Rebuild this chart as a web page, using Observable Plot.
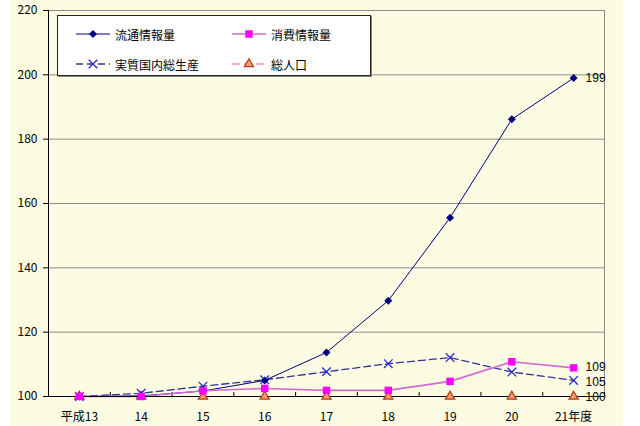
<!DOCTYPE html>
<html><head><meta charset="utf-8">
<script src="https://cdn.jsdelivr.net/npm/d3@7"></script>
<script src="https://cdn.jsdelivr.net/npm/@observablehq/plot@0.6"></script>
<style>
html,body{margin:0;padding:0;background:#fff;}
#wrap{position:relative;width:640px;height:426px;font-family:"Noto Sans CJK JP",sans-serif;}
#legend{position:absolute;left:57px;top:15px;width:312px;height:59px;background:#fff;border:1px solid #222;box-shadow:1px 1px 0 #888;font-size:12px;color:#000;}
.item{position:absolute;display:flex;align-items:center;height:16px;}
.item svg{margin-right:4px;}
</style></head>
<body><div id="wrap"></div>
<script>
const years = ["平成13","14","15","16","17","18","19","20","21年度"];
const ryutsu = [100, 100.2, 101.7, 105, 113.7, 129.8, 155.6, 186.2, 199];
const shohi  = [100, 100, 101.8, 102.5, 101.9, 101.9, 104.7, 110.8, 108.9];
const gdp    = [100, 101, 103.2, 105.2, 107.7, 110.2, 112.1, 107.6, 105];
const jinko  = [100, 100, 100, 100, 100, 100, 100, 100, 100];
const yTicks = [100, 120, 140, 160, 180, 200, 220];
const seriesNames = ["流通情報量", "消費情報量", "実質国内総生産", "総人口"];

const idx = d3.range(years.length);
const bounds = d3.range(years.length + 1).map(i => i - 0.5);
const rows = (arr) => arr.map((v, i) => ({i, v}));
const last = (arr) => [{i: arr.length - 1, v: arr[arr.length - 1]}];

const styles = [
  {data: ryutsu, stroke: "#000080", width: 1, dash: null, symbol: "diamond2", fill: "#000080", dotStroke: "none", r: 3.6, ldy: 0},
  {data: shohi, stroke: "#d36ad3", width: 1.6, dash: null, symbol: "square", fill: "#ff00ff", dotStroke: "none", r: 4.2, ldy: -1},
  {data: gdp, stroke: "#333399", width: 1.3, dash: "7,4", symbol: "times", fill: "none", dotStroke: "#2a2acc", r: 4, ldy: 2},
  {data: jinko, stroke: "#cc6699", width: 1.2, dash: "8,4", symbol: "triangle", fill: "#ff9966", dotStroke: "#aa4422", r: 3.4, ldy: 1}
];

const marks = [
  Plot.ruleY(yTicks.slice(1), {stroke: "#8c8c8c", strokeWidth: 1}),
  Plot.ruleX([bounds[bounds.length - 1]], {stroke: "#8c8c8c", strokeWidth: 1}),
  Plot.axisY({ticks: yTicks, tickSize: 5, tickPadding: 6, label: null, fontSize: 12, color: "#000"}),
  Plot.axisX({ticks: idx, tickFormat: i => years[i], tickSize: 0, tickPadding: 16, label: null, fontSize: 12}),
  Plot.axisX({ticks: bounds, tickFormat: () => "", tickSize: 4, dy: -4, label: null}),
  Plot.ruleX([bounds[0]], {stroke: "#000"}),
];
[3, 2, 0, 1].forEach(k => {
  const s = styles[k];
  marks.push(Plot.line(rows(s.data), {x: "i", y: "v", stroke: s.stroke, strokeWidth: s.width, strokeDasharray: s.dash}));
});
marks.push(Plot.ruleY([yTicks[0]], {stroke: "#000"}));
[3, 2, 0, 1].forEach(k => {
  const s = styles[k];
  marks.push(Plot.dot(rows(s.data), {x: "i", y: "v", symbol: s.symbol, fill: s.fill, stroke: s.dotStroke, strokeWidth: 1.3, r: s.r}));
});
styles.forEach(s => {
  marks.push(Plot.text(last(s.data), {x: "i", y: "v", text: d => String(Math.round(d.v)), dx: 12, dy: s.ldy, textAnchor: "start", fontSize: 12, fontFamily: "'Liberation Sans', sans-serif", fill: "#000"}));
});

const chart = Plot.plot({
  width: 640, height: 426,
  marginLeft: 48, marginRight: 36, marginTop: 10, marginBottom: 30,
  x: {type: "linear", domain: [bounds[0], bounds[bounds.length - 1]], axis: null},
  y: {domain: [yTicks[0], yTicks[yTicks.length - 1]], axis: null},
  style: {
    background: "linear-gradient(to right, #fff 0, #fff 10px, #fcfce2 10px, #fcfce2 623px, #fff 623px)",
    fontFamily: "'Noto Sans CJK JP', sans-serif", fontSize: "12px", color: "#000"
  },
  marks
});
const wrap = document.getElementById("wrap");
wrap.appendChild(chart);

const legend = document.createElement("div");
legend.id = "legend";
const pos = [[17, 10], [173, 10], [17, 40], [173, 40]];
styles.forEach((s, k) => {
  const item = document.createElement("div");
  item.className = "item";
  item.style.left = pos[k][0] + "px";
  item.style.top = pos[k][1] + "px";
  const sym = d3.symbol().type({diamond2: d3.symbolDiamond2, square: d3.symbolSquare, times: d3.symbolTimes, triangle: d3.symbolTriangle}[s.symbol]).size(s.r * s.r * Math.PI)();
  item.innerHTML = `<svg width="36" height="16"><line x1="1" x2="35" y1="8" y2="8" stroke="${s.stroke}" stroke-width="${s.width}" ${s.dash ? `stroke-dasharray="${s.dash}"` : ""}/><path d="${sym}" transform="translate(18,8)" fill="${s.fill}" stroke="${s.dotStroke}" stroke-width="1.3"/></svg><span>${seriesNames[k]}</span>`;
  legend.appendChild(item);
});
wrap.appendChild(legend);
</script></body></html>
